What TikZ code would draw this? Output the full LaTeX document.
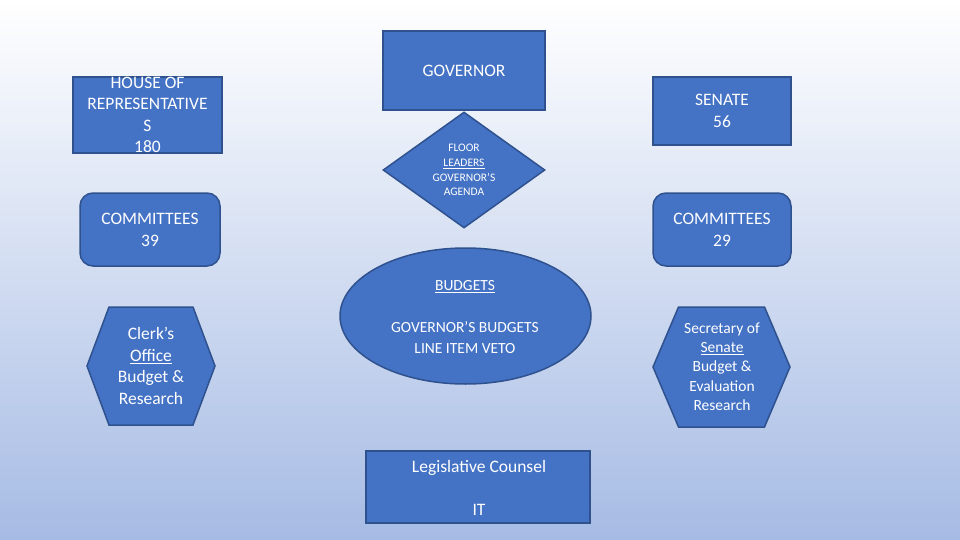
\documentclass[tikz,border=0pt]{standalone}
\usepackage{fontspec}
\setmainfont{Carlito}
\usetikzlibrary{shapes.geometric}
\definecolor{boxfill}{HTML}{4472C4}
\definecolor{boxline}{HTML}{2F528F}
\definecolor{bgbot}{RGB}{166,187,228}
\tikzset{
  shapebox/.style={draw=boxline, fill=boxfill, line width=1.5pt, inner sep=0pt},
  txt/.style={text=white, align=center, inner sep=0pt, font=\fontsize{17.5}{21.5}\selectfont},
}
\begin{document}
\begin{tikzpicture}[x=1pt,y=-1pt]
\useasboundingbox (0,0) rectangle (960,540);
\shade[top color=white, bottom color=bgbot] (0,0) rectangle (960,540);

% House of Representatives
\node[shapebox, rectangle, minimum width=149pt, minimum height=76pt] (house) at (147.5,115) {};
\node[txt] (housetxt) at (house.center) {HOUSE OF\\REPRESENTATIVE\\S\\180};

% Governor
\node[shapebox, rectangle, minimum width=162pt, minimum height=79pt] (gov) at (464,70.5) {};
\node[txt] (govtxt) at (464,71) {GOVERNOR};

% Floor leaders diamond
\node[shapebox, diamond, minimum width=162pt, minimum height=116pt] (floor) at (464,170) {};
\node[txt, font=\fontsize{11.5}{14.7}\selectfont] (floortxt) at (464,170) {FLOOR\\\underline{LEADERS}\\GOVERNOR’S\\AGENDA};

% Senate
\node[shapebox, rectangle, minimum width=138pt, minimum height=68pt] (senate) at (722,111) {};
\node[txt] (senatetxt) at (senate.center) {SENATE\\56};

% Committees
\node[shapebox, rectangle, rounded corners=13pt, minimum width=140pt, minimum height=73pt] (comh) at (150,229.5) {};
\node[txt] (comhtxt) at (150,230) {COMMITTEES\\39};
\node[shapebox, rectangle, rounded corners=13pt, minimum width=138pt, minimum height=73pt] (coms) at (722,229.5) {};
\node[txt] (comstxt) at (722,230) {COMMITTEES\\29};

% Budgets ellipse
\node[shapebox, ellipse, minimum width=251pt, minimum height=136pt] (budget) at (465.5,316) {};
\node[txt, font=\fontsize{15.5}{20.7}\selectfont] (budgettxt) at (465,317) {\underline{BUDGETS}\\[20.7pt]GOVERNOR’S BUDGETS\\LINE ITEM VETO};

% Clerk's hexagon
\coordinate (clerk) at (151,366);
\draw[shapebox] ([shift={(-64,0)}]clerk) -- ([shift={(-42,-59)}]clerk) -- ([shift={(42,-59)}]clerk) -- ([shift={(64,0)}]clerk) -- ([shift={(42,59)}]clerk) -- ([shift={(-42,59)}]clerk) -- cycle;
\node[txt] (clerktxt) at (151,366) {Clerk’s\\\underline{Office}\\Budget \&\\Research};

% Secretary hexagon
\coordinate (sec) at (721.5,367);
\draw[shapebox] ([shift={(-68.5,0)}]sec) -- ([shift={(-43,-60)}]sec) -- ([shift={(43,-60)}]sec) -- ([shift={(68.5,0)}]sec) -- ([shift={(43,60)}]sec) -- ([shift={(-43,60)}]sec) -- cycle;
\node[txt, font=\fontsize{15.5}{19.3}\selectfont] (sectxt) at (722,366.5) {Secretary of\\\underline{Senate}\\Budget \&\\Evaluation\\Research};

% Legislative Counsel
\node[shapebox, rectangle, minimum width=224pt, minimum height=72pt] (legis) at (478,487) {};
\node[txt] (legistxt) at (479,488) {Legislative Counsel\\[21.5pt]IT};
\end{tikzpicture}
\end{document}
